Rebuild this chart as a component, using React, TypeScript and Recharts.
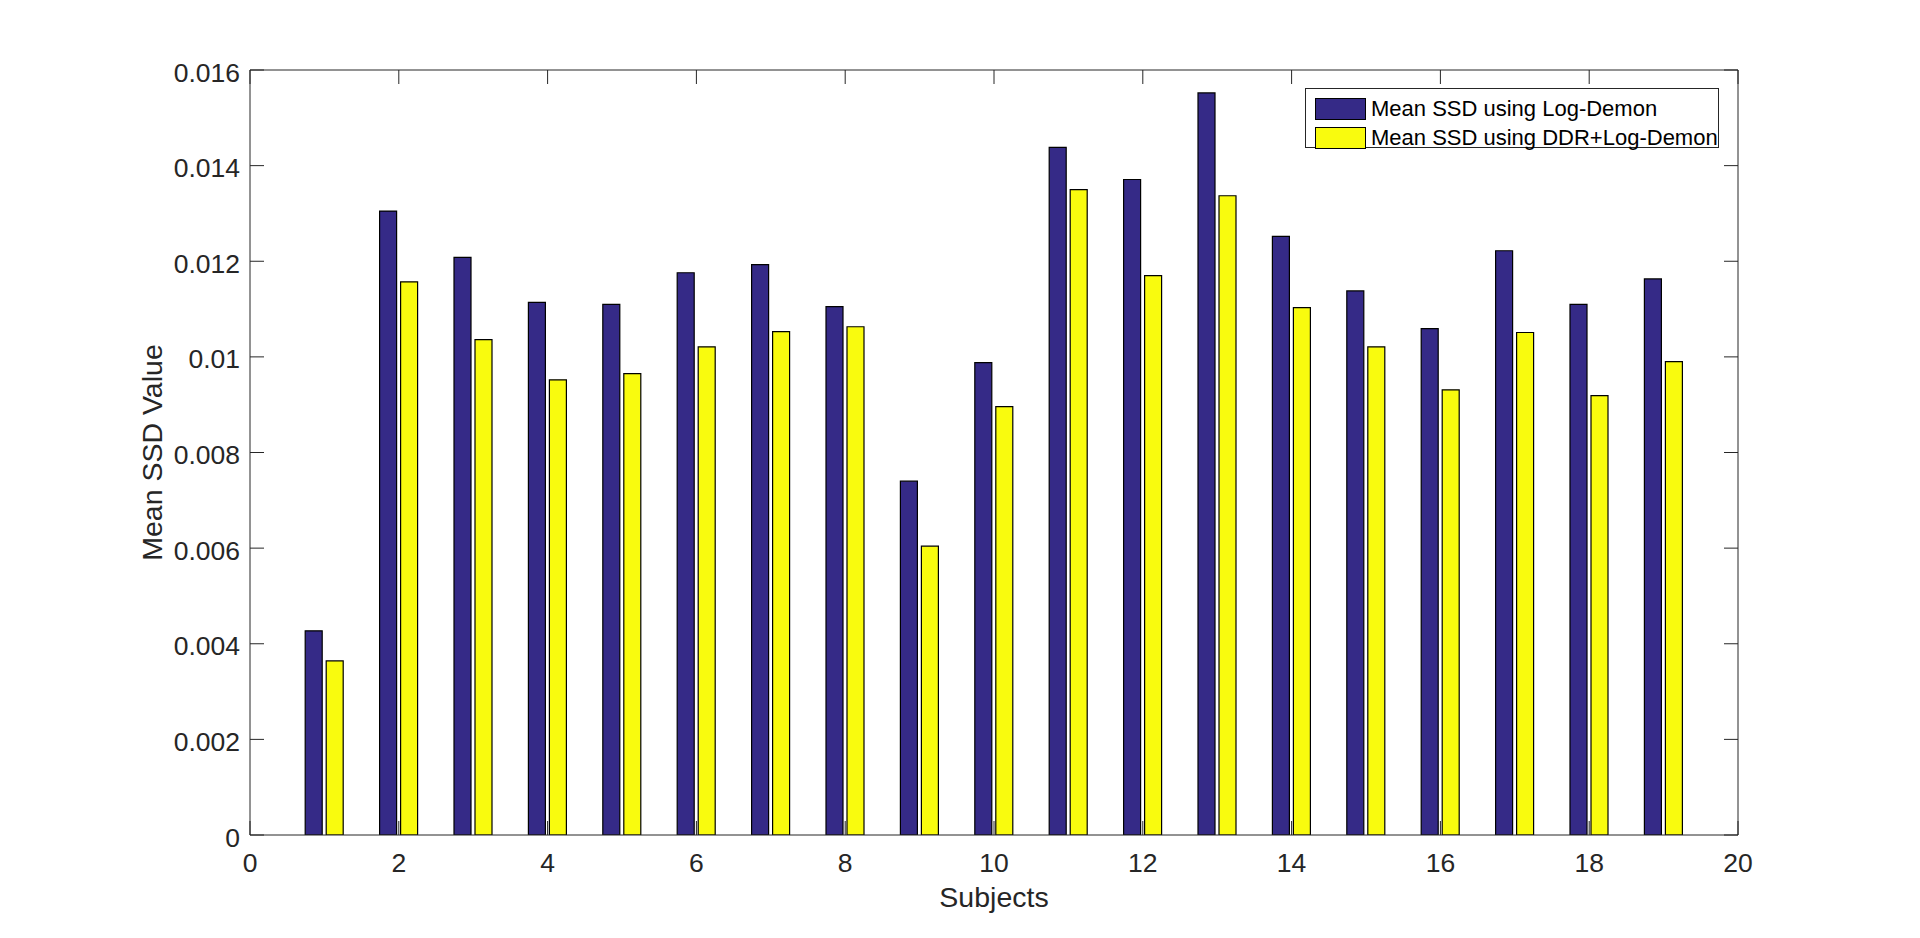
import React from "react"
import { BarChart, Bar, XAxis, YAxis, Legend, Label } from "recharts"

const subjects = [1, 2, 3, 4, 5, 6, 7, 8, 9, 10, 11, 12, 13, 14, 15, 16, 17, 18, 19]
const logDemon = [
  0.00427, 0.01305, 0.01208, 0.01114, 0.0111, 0.01176, 0.01193, 0.01105, 0.0074, 0.00988,
  0.01438, 0.01371, 0.01552, 0.01252, 0.01138, 0.01059, 0.01222, 0.0111, 0.01163,
]
const ddrLogDemon = [
  0.00364, 0.01157, 0.01036, 0.00952, 0.00965, 0.01021, 0.01053, 0.01063, 0.00604, 0.00896,
  0.0135, 0.0117, 0.01337, 0.01103, 0.01021, 0.00931, 0.01051, 0.00919, 0.0099,
]
const seriesNames = ["Mean SSD using Log-Demon", "Mean SSD using DDR+Log-Demon"]
const xTicks = [0, 2, 4, 6, 8, 10, 12, 14, 16, 18, 20]
const yTicks = [0, 0.002, 0.004, 0.006, 0.008, 0.01, 0.012, 0.014, 0.016]

const AXIS = "#262626"
const FONT = "'Liberation Sans', Arial, Helvetica, sans-serif"
const BLUE = "#352A87"
const YELLOW = "#F9FB0E"

const data = subjects.map((s, i) => ({ subject: s, logDemon: logDemon[i], ddr: ddrLogDemon[i] }))

const fmtY = (v: number) => String(Number(v.toFixed(3)))

// MATLAB style: ticks point inward, labels sit outside
function BottomTick({ x, y, payload }: any) {
  return (
    <g>
      <line x1={x} y1={y} x2={x} y2={y - 14} stroke={AXIS} />
      <text x={x} y={y + 37} textAnchor="middle" fill={AXIS} fontSize={26.5} fontFamily={FONT}>
        {payload.value}
      </text>
    </g>
  )
}

function LeftTick({ x, y, payload }: any) {
  return (
    <g>
      <line x1={x} y1={y} x2={x + 14} y2={y} stroke={AXIS} />
      <text x={x - 10} y={y + 11.5} textAnchor="end" fill={AXIS} fontSize={26.5} fontFamily={FONT}>
        {fmtY(payload.value)}
      </text>
    </g>
  )
}

function TopTick({ x, y }: any) {
  return <line x1={x} y1={y} x2={x} y2={y + 14} stroke={AXIS} />
}

function RightTick({ x, y }: any) {
  return <line x1={x} y1={y} x2={x - 14} y2={y} stroke={AXIS} />
}

function LegendBox({ payload }: any) {
  const items = [...(payload || [])].sort(
    (a: any, b: any) => seriesNames.indexOf(a.value) - seriesNames.indexOf(b.value)
  )
  return (
    <div
      style={{
        width: 414,
        height: 60,
        border: `1px solid ${AXIS}`,
        background: "#fff",
        fontFamily: FONT,
        fontSize: 22,
        color: "#000",
        paddingTop: 5,
        boxSizing: "border-box",
      }}
    >
      {items.map((entry: any) => (
        <div key={entry.value} style={{ display: "flex", alignItems: "center", height: 29, paddingLeft: 9 }}>
          <span
            style={{
              display: "inline-block",
              width: 49,
              height: 20,
              background: entry.color,
              border: "1px solid #000",
              marginRight: 5,
            }}
          />
          <span style={{ lineHeight: "22px" }}>{entry.value}</span>
        </div>
      ))}
    </div>
  )
}

export default function App() {
  return (
    <div style={{ position: "absolute", left: 0, top: 0, width: 1920, height: 938, background: "#fff" }}>
      <BarChart
        width={1920}
        height={938}
        data={data}
        margin={{ top: 69, right: 181, bottom: 0, left: 0 }}
        barGap={4}
      >
        <XAxis
          dataKey="subject"
          type="number"
          domain={[0, 20]}
          ticks={xTicks}
          interval={0}
          allowDataOverflow
          height={103}
          tickSize={0}
          tickMargin={0}
          tickLine={false}
          axisLine={{ stroke: AXIS }}
          tick={<BottomTick />}
        >
          <Label
            content={({ viewBox }: any) => (
              <text
                x={viewBox.x + viewBox.width / 2}
                y={viewBox.y + 72}
                textAnchor="middle"
                fill={AXIS}
                fontSize={28.5}
                fontFamily={FONT}
              >
                Subjects
              </text>
            )}
          />
        </XAxis>
        <XAxis
          xAxisId="top"
          orientation="top"
          dataKey="subject"
          type="number"
          domain={[0, 20]}
          ticks={xTicks}
          interval={0}
          allowDataOverflow
          height={1}
          tickSize={0}
          tickMargin={0}
          tickLine={false}
          axisLine={{ stroke: AXIS }}
          tick={<TopTick />}
        />
        <YAxis
          type="number"
          domain={[0, 0.016]}
          ticks={yTicks}
          interval={0}
          allowDataOverflow
          width={250}
          tickSize={0}
          tickMargin={0}
          tickLine={false}
          axisLine={{ stroke: AXIS }}
          tick={<LeftTick />}
        >
          <Label
            content={({ viewBox }: any) => {
              const cx = viewBox.x + 161.5
              const cy = viewBox.y + viewBox.height / 2
              return (
                <text
                  x={cx}
                  y={cy}
                  transform={`rotate(-90, ${cx}, ${cy})`}
                  textAnchor="middle"
                  fill={AXIS}
                  fontSize={28.5}
                  fontFamily={FONT}
                >
                  Mean SSD Value
                </text>
              )
            }}
          />
        </YAxis>
        <YAxis
          yAxisId="right"
          orientation="right"
          type="number"
          domain={[0, 0.016]}
          ticks={yTicks}
          interval={0}
          allowDataOverflow
          width={1}
          tickSize={0}
          tickMargin={0}
          tickLine={false}
          axisLine={{ stroke: AXIS }}
          tick={<RightTick />}
        />
        <Legend
          layout="vertical"
          align="center"
          verticalAlign="middle"
          content={<LegendBox />}
          wrapperStyle={{ left: 1305, top: 88, width: 414, height: 60 }}
        />
        <Bar
          dataKey="logDemon"
          name={seriesNames[0]}
          fill={BLUE}
          stroke="#000"
          strokeWidth={1.2}
          barSize={17}
          isAnimationActive={false}
        />
        <Bar
          dataKey="ddr"
          name={seriesNames[1]}
          fill={YELLOW}
          stroke="#000"
          strokeWidth={1.2}
          barSize={17}
          isAnimationActive={false}
        />
      </BarChart>
    </div>
  )
}
